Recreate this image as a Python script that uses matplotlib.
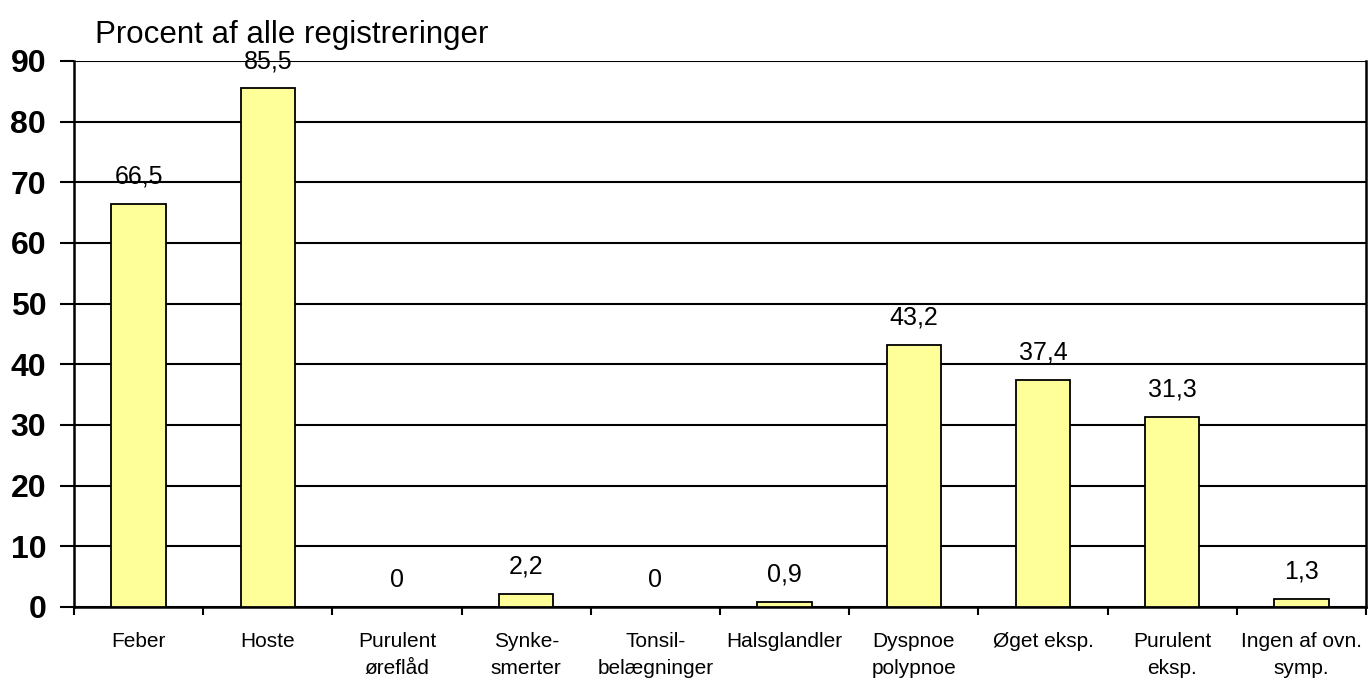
import matplotlib.pyplot as plt
import numpy as np

plt.rcParams['font.family'] = ['Liberation Sans', 'DejaVu Sans']

categories = ['Feber', 'Hoste', 'Purulent\nøreflåd', 'Synke-\nsmerter', 'Tonsil-\nbelægninger',
              'Halsglandler', 'Dyspnoe\npolypnoe', 'Øget eksp.', 'Purulent\neksp.', 'Ingen af ovn.\nsymp.']
values = [66.5, 85.5, 0, 2.2, 0, 0.9, 43.2, 37.4, 31.3, 1.3]
value_labels = ['66,5', '85,5', '0', '2,2', '0', '0,9', '43,2', '37,4', '31,3', '1,3']
yticks = [0, 10, 20, 30, 40, 50, 60, 70, 80, 90]

fig = plt.figure(figsize=(13.68, 6.8), dpi=100)
ax = fig.add_axes([74 / 1368, 1 - 607 / 680, 1292 / 1368, 546 / 680])

x = np.arange(len(categories))
ax.bar(x, values, width=0.42, color='#FFFF99', edgecolor='black', linewidth=1.3, zorder=3)

for xi, v, lab in zip(x, values, value_labels):
    ax.annotate(lab, (xi, v), xytext=(0, 11), textcoords='offset points',
                ha='center', va='bottom', fontsize=18)

ax.set_xlim(-0.5, len(categories) - 0.5)
ax.set_ylim(0, 90)
ax.set_yticks(yticks)
ax.set_yticklabels([str(t) for t in yticks], fontsize=23, fontweight='bold')
ax.tick_params(axis='y', length=10, width=1.5, direction='out', pad=10)

ax.set_xticks(x)
ax.set_xticklabels(categories, fontsize=15, linespacing=1.55)
ax.tick_params(axis='x', length=0, pad=18)
ax.set_xticks(np.arange(len(categories) + 1) - 0.5, minor=True)
ax.tick_params(axis='x', which='minor', length=6, width=1.5, direction='out')

ax.yaxis.grid(True, color='black', linewidth=1.5, zorder=0)
ax.set_axisbelow(True)
for side in ['left', 'bottom', 'right']:
    ax.spines[side].set_linewidth(1.8)
ax.spines['top'].set_visible(False)

fig.text(95 / 1368, 1 - 43 / 680, 'Procent af alle registreringer', fontsize=22.5,
         ha='left', va='baseline')

fig.savefig('out.png', dpi=100)
